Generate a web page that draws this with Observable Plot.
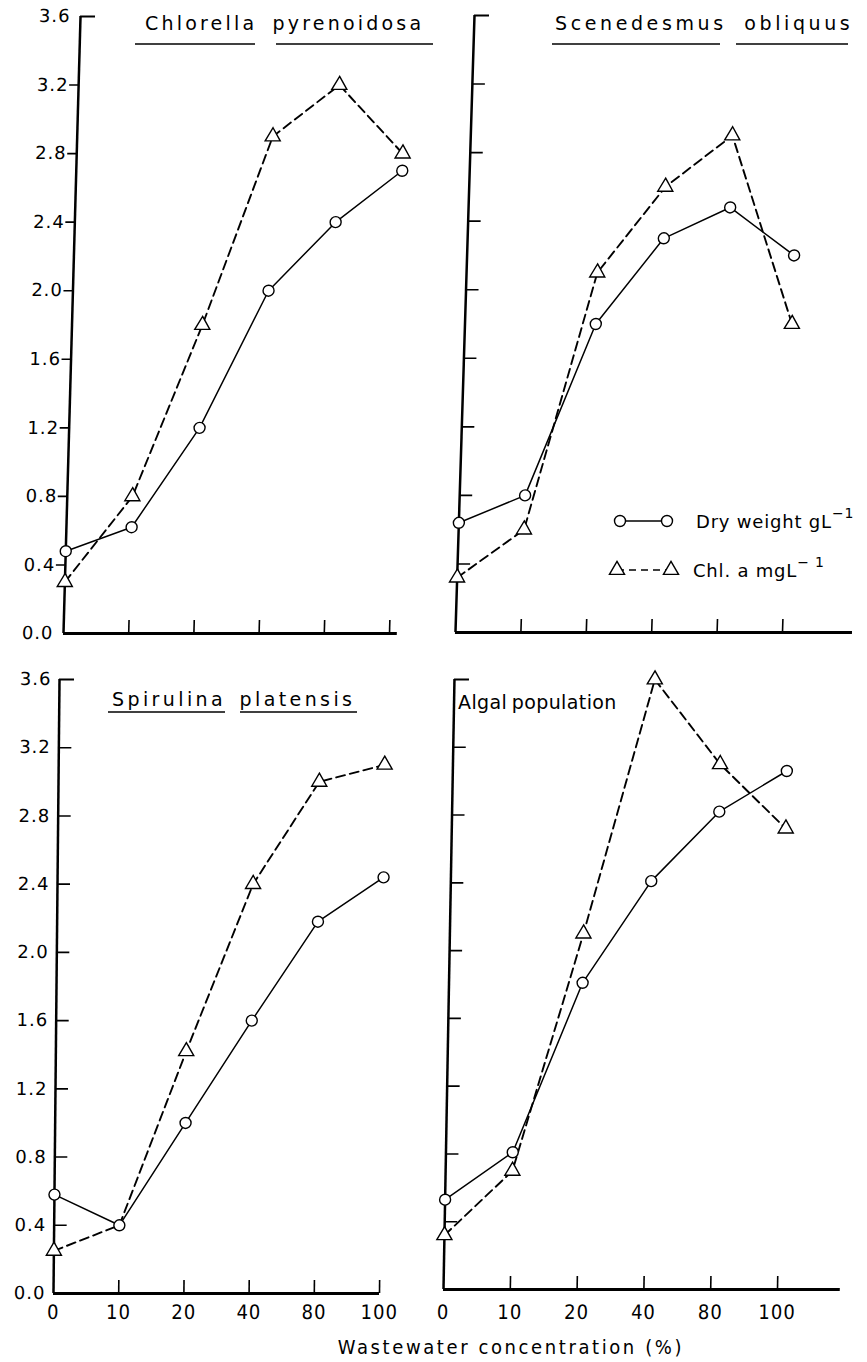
<!DOCTYPE html>
<html><head><meta charset="utf-8">
<script src="https://cdn.jsdelivr.net/npm/d3@7"></script>
<script src="https://cdn.jsdelivr.net/npm/@observablehq/plot@0.6"></script>
<style>
body{margin:0;background:#fff;}
#wrap{position:relative;width:867px;height:1362px;overflow:hidden;background:#fff;font-family:"DejaVu Sans",sans-serif;color:#000;}
.panel{position:absolute;}
g[aria-label="x-axis tick label"] text{font-family:"DejaVu Sans Condensed","DejaVu Sans",sans-serif;font-stretch:condensed;}
</style></head><body><div id="wrap"></div>
<script>
// ---- data ----
const concentrations = ["0","10","20","40","80","100"];
const yTicks = [0,0.4,0.8,1.2,1.6,2.0,2.4,2.8,3.2,3.6];
const chlorellaDry = [0.48,0.62,1.2,2.0,2.4,2.7];
const chlorellaChl = [0.3,0.8,1.8,2.9,3.2,2.8];
const scenedesmusDry = [0.64,0.8,1.8,2.3,2.48,2.2];
const scenedesmusChl = [0.32,0.6,2.1,2.6,2.9,1.8];
const spirulinaDry = [0.58,0.4,1.0,1.6,2.18,2.44];
const spirulinaChl = [0.25,0.4,1.42,2.4,3.0,3.1];
const algalDry = [0.53,0.81,1.81,2.41,2.82,3.06];
const algalChl = [0.32,0.7,2.1,3.6,3.1,2.72];
const panelTitles = ["Chlorella pyrenoidosa","Scenedesmus obliquus","Spirulina platensis","Algal population"];
const legendLabels = ["Dry weight gL","Chl. a mgL"];
const xTitle = "Wastewater concentration (%)";

const wrap = document.getElementById("wrap");

const panels = [
  {dry:chlorellaDry, chl:chlorellaChl, left:0, top:0, width:430, height:660, mL:63, mR:41, mT:16, mB:27, xEnd:5.12, outTicks:true, yLabels:true, xLabels:false, skew:0.0276, yPad:10},
  {dry:scenedesmusDry, chl:scenedesmusChl, left:430, top:0, width:437, height:660, mL:25, mR:85, mT:15, mB:28, xEnd:6.07, outTicks:false, yLabels:false, xLabels:false, skew:0.0308},
  {dry:spirulinaDry, chl:spirulinaChl, left:0, top:660, width:430, height:702, mL:53, mR:51, mT:19, mB:69, xEnd:5, outTicks:false, yLabels:true, xLabels:true, skew:0.0098, yPad:8, xPad:11},
  {dry:algalDry, chl:algalChl, left:430, top:660, width:437, height:702, mL:13, mR:90, mT:19, mB:73, xEnd:5.94, outTicks:false, yLabels:false, xLabels:true, skew:0.018, xPad:15}
];

panels.forEach(p => {
  const rows = concentrations.map((c,i)=>({i, c, dry:p.dry[i], chl:p.chl[i]}));
  const pxX = (p.width-p.mL-p.mR)/5, pxY = (p.height-p.mT-p.mB)/3.6;
  const inner = yTicks.filter(v=>v>0 && v<3.6);
  const marks = [
    Plot.ruleY(inner, {x1: p.outTicks ? -9/pxX : 0, x2: p.outTicks ? 0 : 13/pxX, stroke:"#000", strokeWidth:1.6}),
    Plot.ruleY([3.6], {x1:0, x2:15/pxX, stroke:"#000", strokeWidth:2}),
    Plot.ruleX(d3.range(1,6), {y1:0, y2:13/pxY, stroke:"#000", strokeWidth:1.6}),
    Plot.ruleX([0], {y1:0, y2:3.6, stroke:"#000", strokeWidth:2.5}),
    Plot.ruleY([0], {x1:0, x2:p.xEnd, stroke:"#000", strokeWidth:2.8}),
    Plot.line(rows, {x:"i", y:"chl", stroke:"#000", strokeWidth:1.9, strokeDasharray:"9,5"}),
    Plot.line(rows, {x:"i", y:"dry", stroke:"#000", strokeWidth:1.5}),
    Plot.dot(rows.filter(d=>d.chl!==d.dry), {x:"i", y:"chl", symbol:"triangle", r:5.6, fill:"#fff", stroke:"#000", strokeWidth:1.4}),
    Plot.dot(rows, {x:"i", y:"dry", r:5.5, fill:"#fff", stroke:"#000", strokeWidth:1.4})
  ];
  if (p.yLabels) marks.push(Plot.axisY(yTicks, {anchor:"left", label:null, tickSize:0, tickPadding:p.yPad, tickFormat:d=>d.toFixed(1), fontSize:18}));
  if (p.xLabels) marks.push(Plot.axisX(d3.range(6), {anchor:"bottom", label:null, tickSize:0, tickPadding:p.xPad, tickFormat:i=>concentrations[i], fontSize:20}));
  const svg = Plot.plot({
    width:p.width, height:p.height,
    marginLeft:p.mL, marginRight:p.mR, marginTop:p.mT, marginBottom:p.mB,
    x:{type:"linear", domain:[0,5], axis:null, label:null},
    y:{type:"linear", domain:[0,3.6], axis:null, label:null},
    style:{background:"transparent", overflow:"visible", fontFamily:"DejaVu Sans, sans-serif", color:"#000", letterSpacing:"1px"},
    marks
  });
  const div = document.createElement("div");
  div.className = "panel";
  div.style.left = p.left+"px"; div.style.top = p.top+"px";
  div.style.width = p.width+"px"; div.style.height = p.height+"px";
  svg.style.transformOrigin = `${p.mL}px ${p.height-p.mB}px`;
  svg.style.transform = `skewX(${-Math.atan(p.skew)*180/Math.PI}deg)`;
  div.appendChild(svg);
  wrap.appendChild(div);
});

// ---- overlay: titles, underlines, legend, x title ----
const ov = d3.select(wrap).append("svg")
  .attr("width",867).attr("height",1362)
  .style("position","absolute").style("left","0px").style("top","0px")
  .attr("font-family","DejaVu Sans, sans-serif");

const titleSpecs = [
  {x:145, y:30, ls:3.2, ws:6, underlines:[[135,255,44],[276,433,44]]},
  {x:555, y:30, ls:3.6, ws:8, underlines:[[552,720,44],[736,848,44]]},
  {x:112, y:706, ls:3.4, ws:4, underlines:[[108,225,712],[240,357,712]]},
  {x:458, y:709, ls:0.4, ws:-2, underlines:[]}
];
titleSpecs.forEach((t,k)=>{
  ov.append("text").attr("x",t.x).attr("y",t.y).attr("font-size",19)
    .style("letter-spacing",t.ls+"px").style("word-spacing",t.ws+"px").text(panelTitles[k]);
  t.underlines.forEach(u=>ov.append("line").attr("x1",u[0]).attr("x2",u[1]).attr("y1",u[2]).attr("y2",u[2]).attr("stroke","#000").attr("stroke-width",1.6));
});

// legend
const circ = d3.symbol(d3.symbolCircle, Math.PI*5.5*5.5)();
const tri = d3.symbol(d3.symbolTriangle, Math.PI*5.6*5.6)();
const lg = [
  {y:521, x1:620, x2:667, dash:null, sym:circ, tx:696, sup:"−1"},
  {y:570, x1:617, x2:671, dash:"7,5", sym:tri, tx:693, sup:"− 1"}
];
lg.forEach((r,k)=>{
  ov.append("line").attr("x1",r.x1).attr("x2",r.x2).attr("y1",r.y).attr("y2",r.y)
    .attr("stroke","#000").attr("stroke-width",1.6).attr("stroke-dasharray",r.dash);
  [r.x1,r.x2].forEach(x=>ov.append("path").attr("d",r.sym).attr("transform",`translate(${x},${r.y})`)
    .attr("fill","#fff").attr("stroke","#000").attr("stroke-width",1.4));
  const t = ov.append("text").attr("x",r.tx).attr("y",r.y+7).attr("font-size",18).style("letter-spacing","0.8px").text(legendLabels[k]);
  t.append("tspan").attr("dy",-10).attr("font-size",14).text(r.sup);
});

ov.append("text").attr("x",511).attr("y",1354).attr("text-anchor","middle").attr("font-size",20)
  .attr("font-family","DejaVu Sans Condensed, DejaVu Sans, sans-serif").style("font-stretch","condensed")
  .style("letter-spacing","2.6px").text(xTitle);
</script></body></html>
